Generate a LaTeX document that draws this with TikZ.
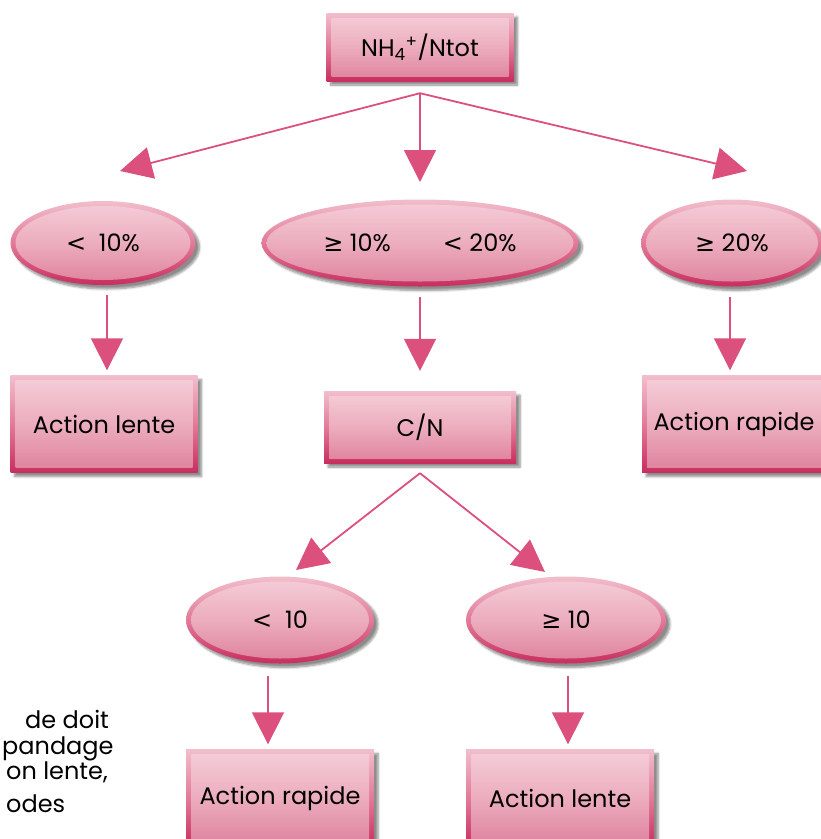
\documentclass[tikz,border=0pt]{standalone}
\usepackage{fontspec}
\setmainfont{Poppins}
\newfontfamily\symfont{DejaVu Sans}
\usepackage{tikz}
\usetikzlibrary{arrows.meta,shapes,shadows.blur,calc}
\definecolor{rimT}{RGB}{242,190,204}
\definecolor{rimM}{RGB}{226,122,152}
\definecolor{rimB}{RGB}{200,46,94}
\definecolor{inT}{RGB}{245,206,217}
\definecolor{inM}{RGB}{236,173,189}
\definecolor{inB}{RGB}{222,128,157}
\definecolor{arrpink}{RGB}{219,80,125}
\tikzset{
shell/.style={inner sep=0pt,top color=rimT,bottom color=rimB,middle color=rimM,
 blur shadow={shadow xshift=4pt,shadow yshift=-4pt,shadow blur steps=6,shadow opacity=45},font=\fontsize{24}{28}\selectfont},
box/.style={shell,rectangle,path picture={
 \shade[top color=inT,bottom color=inB,middle color=inM]([shift={(5pt,5pt)}]path picture bounding box.south west)
 rectangle ([shift={(-5pt,-5pt)}]path picture bounding box.north east);}},
oval/.style={shell,ellipse,path picture={
 \shade[top color=inT,bottom color=inB,middle color=inM] let \p1=(path picture bounding box.north east),
 \p2=(path picture bounding box.center) in (\p2) ellipse [x radius=\x1-\x2-5pt,y radius=\y1-\y2-5pt];}},
arr/.style={draw=arrpink,line width=1.8pt,-{Triangle[length=32pt,width=32pt]}},
txt/.style={anchor=base west,inner sep=0pt,font=\fontsize{24}{28}\selectfont}
}
\newcommand{\lsym}{{\symfont <}}
\newcommand{\gsym}{{\symfont ≥}}
\begin{document}
\begin{tikzpicture}[x=1pt,y=-1pt]
\useasboundingbox (0,0) rectangle (821,839);
\node[box,minimum width=187pt,minimum height=68pt](nh) at (420,47){NH\textsubscript{4}\textsuperscript{+}/Ntot};
\node[oval,minimum width=185pt,minimum height=84pt](lt) at (103,243){\lsym\ \ 10\%};
\node[oval,minimum width=317pt,minimum height=87pt](md) at (420,243){\gsym{} 10\%\hspace{52pt}\lsym{} 20\%};
\node[oval,minimum width=182pt,minimum height=87pt](ge) at (732,243){\gsym{} 20\%};
\node[box,minimum width=187pt,minimum height=97pt](al) at (104,424){Action lente};
\node[box,minimum width=192pt,minimum height=72pt](cn) at (420,427){C/N};
\node[box,minimum width=184pt,minimum height=97pt](ar) at (734,424){Action rapide};
\node[oval,minimum width=188pt,minimum height=87pt](lt2) at (280,620){\lsym\ \ 10};
\node[oval,minimum width=200pt,minimum height=87pt](ge2) at (566,620){\gsym{} 10};
\node[box,minimum width=188pt,minimum height=97pt](ar2) at (280,798){Action rapide};
\node[box,minimum width=188pt,minimum height=97pt](al2) at (560,798){Action lente};
\node[txt](t1) at (25,728){de doit};
\node[txt](t2) at (2,754){pandage};
\node[txt](t3) at (6,779){on lente,};
\node[txt](t4) at (6,812){odes};
\coordinate (s1) at ([yshift=-12pt]nh.south);
\coordinate (s2) at ([yshift=-10pt]cn.south);
\coordinate (k1) at (120,171);
\coordinate (k2) at (420,182);
\coordinate (k3) at (747,171);
\coordinate (k4) at (296,570);
\coordinate (k5) at (545,572);
\draw[arr](s1)--(k1);
\draw[arr](s1)--(k2);
\draw[arr](s1)--(k3);
\draw[arr](s2)--(k4);
\draw[arr](s2)--(k5);
\draw[arr,shorten <=10pt,shorten >=5pt]([xshift=4pt]lt.south)--([xshift=3pt]al.north);
\draw[arr,shorten <=10pt,shorten >=20pt](md.south)--(cn.north);
\draw[arr,shorten <=10pt,shorten >=5pt]([xshift=-2pt]ge.south)--([xshift=-4pt]ar.north);
\draw[arr,shorten <=12pt,shorten >=5pt]([xshift=-12pt]lt2.south)--([xshift=-12pt]ar2.north);
\draw[arr,shorten <=12pt,shorten >=5pt]([xshift=2pt]ge2.south)--([xshift=8pt]al2.north);
\end{tikzpicture}
\end{document}
